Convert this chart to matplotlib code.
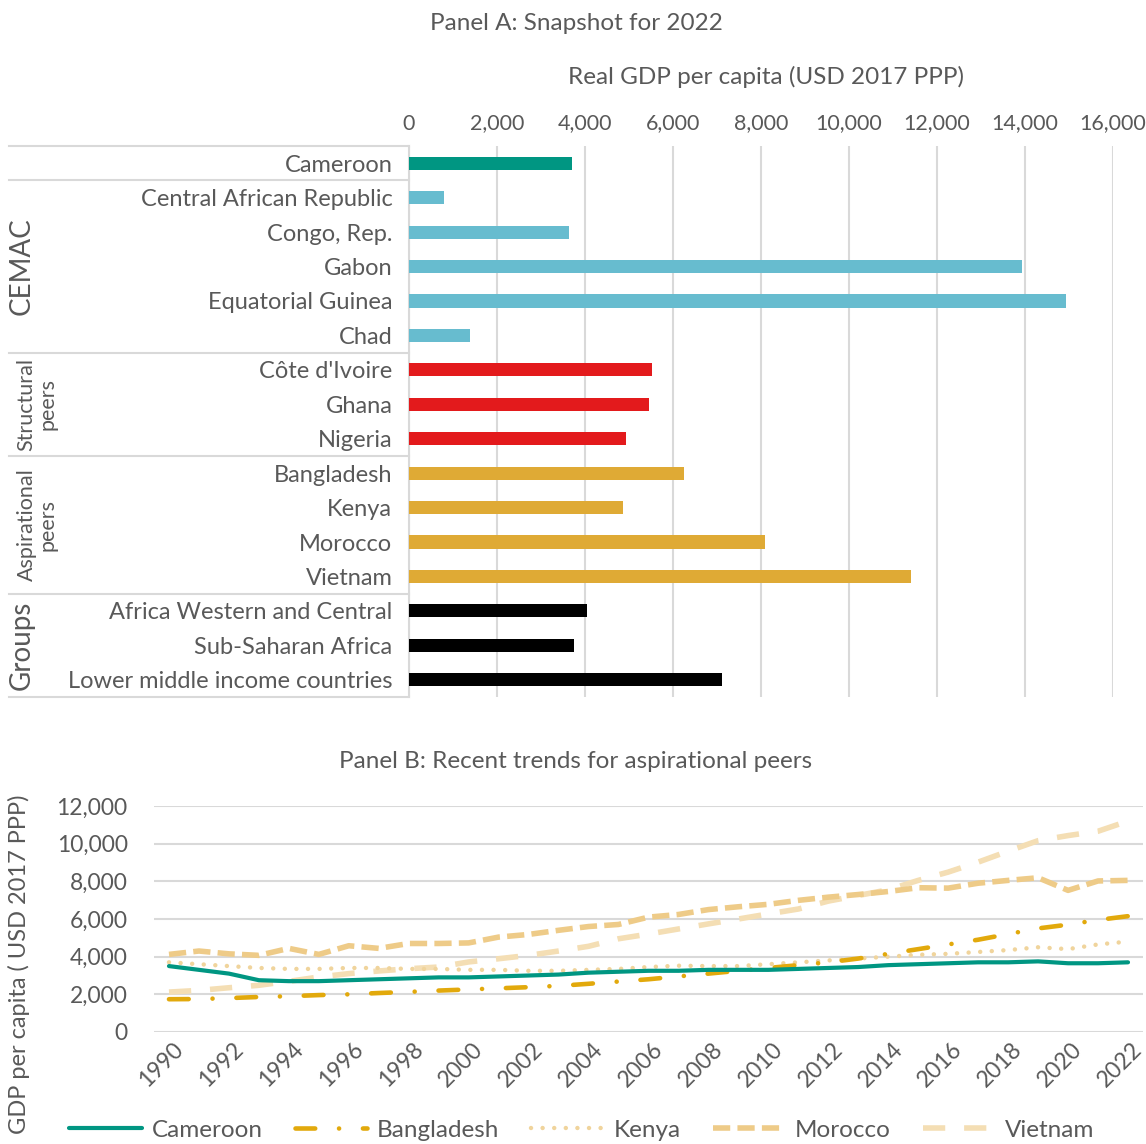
import matplotlib
matplotlib.use('Agg')
import matplotlib.pyplot as plt
import matplotlib.transforms as mtransforms
from matplotlib.lines import Line2D
import numpy as np

plt.rcParams['font.family'] = ['Lato', 'DejaVu Sans']

# ---------------- Data ----------------
countries = ['Cameroon', 'Central African Republic', 'Congo, Rep.', 'Gabon',
             'Equatorial Guinea', 'Chad', "Côte d'Ivoire", 'Ghana', 'Nigeria',
             'Bangladesh', 'Kenya', 'Morocco', 'Vietnam',
             'Africa Western and Central', 'Sub-Saharan Africa',
             'Lower middle income countries']
gdp_2022 = [3710, 790, 3640, 13940, 14930, 1390, 5530, 5460, 4940,
            6260, 4870, 8080, 11400, 4050, 3760, 7120]
country_group = ['Cameroon', 'CEMAC', 'CEMAC', 'CEMAC', 'CEMAC', 'CEMAC',
                 'Structural', 'Structural', 'Structural',
                 'Aspirational', 'Aspirational', 'Aspirational', 'Aspirational',
                 'Groups', 'Groups', 'Groups']
group_labels = ['CEMAC', 'Structural\npeers', 'Aspirational\npeers', 'Groups']
x_ticks_a = [0, 2000, 4000, 6000, 8000, 10000, 12000, 14000, 16000]

years = list(range(1990, 2023))
cameroon = [3500, 3300, 3100, 2750, 2700, 2700, 2750, 2800, 2850, 2900, 2900,
            2950, 3000, 3050, 3150, 3200, 3250, 3250, 3300, 3300, 3300, 3350,
            3400, 3450, 3550, 3600, 3650, 3700, 3700, 3750, 3650, 3650, 3700]
bangladesh = [1740, 1750, 1800, 1860, 1900, 1960, 2000, 2070, 2130, 2200, 2260,
              2320, 2380, 2450, 2560, 2680, 2800, 2950, 3100, 3250, 3400, 3550,
              3700, 3900, 4150, 4400, 4650, 4900, 5200, 5500, 5700, 5950, 6150]
kenya = [3700, 3600, 3500, 3400, 3350, 3350, 3400, 3400, 3350, 3350, 3300,
         3300, 3250, 3250, 3300, 3350, 3450, 3520, 3500, 3500, 3600, 3700,
         3800, 3900, 4000, 4100, 4150, 4250, 4350, 4500, 4400, 4650, 4800]
morocco = [4120, 4300, 4150, 4070, 4440, 4120, 4580, 4440, 4700, 4700, 4730,
           5040, 5180, 5400, 5600, 5710, 6100, 6240, 6500, 6650, 6780, 6990,
           7160, 7300, 7460, 7660, 7640, 7900, 8050, 8190, 7520, 8020, 8050]
vietnam = [2120, 2210, 2350, 2480, 2690, 2920, 3100, 3240, 3360, 3450, 3720,
           3890, 4070, 4300, 4550, 4950, 5200, 5470, 5740, 6000, 6270, 6530,
           6950, 7250, 7550, 8050, 8490, 9020, 9600, 10160, 10430, 10660, 11200]
y_ticks_b = [0, 2000, 4000, 6000, 8000, 10000, 12000]

# ---------------- Styles ----------------
GRAY = '#595959'
GRID = '#d9d9d9'
FS = 17
group_color = {'Cameroon': '#009682', 'CEMAC': '#67bccf', 'Structural': '#e31a1c',
               'Aspirational': '#dfaa35', 'Groups': '#000000'}

W, H = 1146, 1144
fig = plt.figure(figsize=(W / 100, H / 100), dpi=100)


def px_axes(l, t, r, b):
    return fig.add_axes([l / W, 1 - b / H, (r - l) / W, (b - t) / H])


# ---------------- Panel A ----------------
axA = px_axes(409, 146, 1113, 697)
ypos = np.arange(len(countries))
axA.barh(ypos, gdp_2022, height=0.38,
         color=[group_color[g] for g in country_group], zorder=3)
axA.set_ylim(len(countries) - 0.5, -0.5)
axA.set_xlim(0, 16000)
axA.xaxis.tick_top()
axA.set_xticks(x_ticks_a)
axA.set_xticklabels([f'{v:,}' for v in x_ticks_a])
axA.tick_params(axis='x', length=0, pad=9, labelsize=15.5, labelcolor=GRAY)
axA.set_yticks(ypos)
axA.set_yticklabels(countries)
axA.tick_params(axis='y', length=0, pad=12, labelsize=FS, labelcolor=GRAY)
axA.grid(axis='x', color=GRID, lw=1.5, zorder=0)
axA.set_axisbelow(True)
for s in ['top', 'right', 'bottom']:
    axA.spines[s].set_visible(False)
axA.spines['left'].set_color(GRID)
axA.spines['left'].set_linewidth(1.5)

trA = mtransforms.blended_transform_factory(fig.transFigure, axA.transData)
for yb in [-0.5, 0.5, 5.5, 8.5, 12.5, 15.5]:
    axA.add_line(Line2D([9 / W, 409 / W], [yb, yb], transform=trA,
                        color=GRID, lw=1.5, clip_on=False))
group_spans = [(1, 5), (6, 8), (9, 12), (13, 15)]
group_x = [22, 37, 37, 22]
group_fs = [20, 15.5, 15.5, 20]
for lab, (a, b), gx, gfs in zip(group_labels, group_spans, group_x, group_fs):
    axA.text(gx / W, (a + b) / 2, lab, transform=trA, rotation=90,
             ha='center', va='center', fontsize=gfs, color=GRAY,
             linespacing=1.05, multialignment='center')

fig.text(576 / W, 1 - 24 / H, 'Panel A: Snapshot for 2022', ha='center',
         va='center', fontsize=17.5, color=GRAY)
fig.text(766 / W, 1 - 77 / H, 'Real GDP per capita (USD 2017 PPP)',
         ha='center', va='center', fontsize=17.5, color=GRAY)

# ---------------- Panel B ----------------
axB = px_axes(154, 806, 1143, 1032)
xb = np.arange(len(years))
l_cam, = axB.plot(xb, cameroon, color='#009682', lw=3.0,
                  solid_capstyle='round', label='Cameroon', zorder=5)
l_ban, = axB.plot(xb, bangladesh, color='#e2a90c', lw=3.3,
                  linestyle=(0, (4.3, 5.2, 0.01, 5.2)), dash_capstyle='round',
                  label='Bangladesh', zorder=4)
l_ken, = axB.plot(xb, kenya, color='#f0d49c', lw=3.2,
                  linestyle=(0, (0.01, 2.6)), dash_capstyle='round',
                  label='Kenya', zorder=3)
l_mor, = axB.plot(xb, morocco, color='#eecb88', lw=4.0,
                  linestyle=(0, (3.1, 1.3)), dash_capstyle='butt',
                  label='Morocco', zorder=2)
l_vie, = axB.plot(xb, vietnam, color='#f4deb4', lw=4.0,
                  linestyle=(0, (4.0, 3.4)), dash_capstyle='butt',
                  label='Vietnam', zorder=1)
axB.set_xlim(-0.5, len(years) - 0.5)
axB.set_ylim(0, 12000)
axB.set_yticks(y_ticks_b)
axB.set_yticklabels([f'{v:,}' for v in y_ticks_b])
axB.tick_params(axis='y', length=0, pad=19, labelsize=16.5, labelcolor=GRAY)
axB.set_xticks(xb[::2])
axB.set_xticklabels([str(y) for y in years[::2]], rotation=45,
                    ha='right', va='center', rotation_mode='anchor')
axB.tick_params(axis='x', length=0, pad=10, labelsize=16.5, labelcolor=GRAY)
offset = mtransforms.ScaledTranslation(11 / 100, 0, fig.dpi_scale_trans)
for lab in axB.get_xticklabels():
    lab.set_transform(lab.get_transform() + offset)
axB.grid(axis='y', color=GRID, lw=1.5, zorder=0)
axB.set_axisbelow(True)
for s in axB.spines.values():
    s.set_visible(False)

fig.text(19 / W, 1 - 964 / H, 'GDP per capita ( USD 2017 PPP)', rotation=90,
         ha='center', va='center', fontsize=17, color=GRAY)
fig.text(576 / W, 1 - 762 / H, 'Panel B: Recent trends for aspirational peers',
         ha='center', va='center', fontsize=17.5, color=GRAY)

leg = fig.legend(handles=[l_cam, l_ban, l_ken, l_mor, l_vie],
                 loc='center', bbox_to_anchor=(582 / W, 1 - 1130 / H),
                 ncol=5, frameon=False, fontsize=17.5, handlelength=3.0,
                 handletextpad=0.4, columnspacing=1.3, borderaxespad=0,
                 borderpad=0)
for t in leg.get_texts():
    t.set_color(GRAY)

fig.savefig('out.png', dpi=100)
